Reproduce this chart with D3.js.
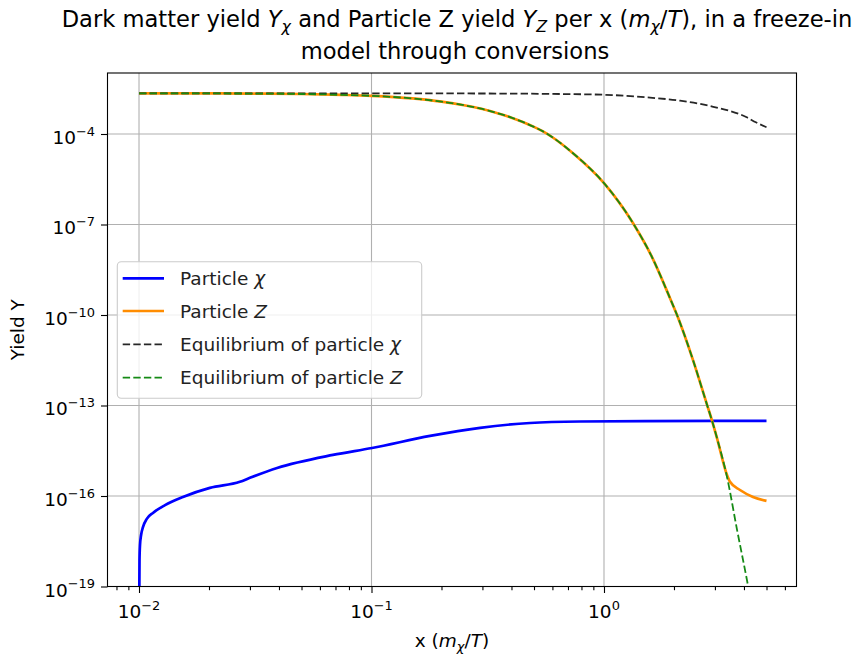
<!DOCTYPE html>
<html>
<head>
<meta charset="utf-8">
<script src="https://cdn.jsdelivr.net/npm/d3@7"></script>
<style>
  html, body { margin: 0; padding: 0; background: #fff; }
  svg { display: block; font-family: "DejaVu Sans", sans-serif; }
</style>
</head>
<body>
<svg id="chart" width="859" height="657"></svg>
<script>
// ---- data: x = m_chi / T, yields Y ----
const xChi  = [0.01, 0.01005, 0.0101, 0.01021, 0.0104, 0.0108, 0.01148, 0.01294, 0.01545, 0.02018, 0.02716, 0.03, 0.03926, 0.06823, 0.1005, 0.1786, 0.2931, 0.4808, 0.7889, 1.5, 3.0, 5.0];
const yChi  = [1e-21, 7.6e-19, 2.4e-18, 5.1e-18, 9.3e-18, 1.74e-17, 2.75e-17, 5.0e-17, 9.3e-17, 1.86e-16, 2.95e-16, 4.0e-16, 8.5e-16, 2.3e-15, 3.9e-15, 9.8e-15, 1.82e-14, 2.63e-14, 2.95e-14, 3.05e-14, 3.1e-14, 3.1e-14];

const xZ    = [0.01, 0.02, 0.03, 0.05, 0.075, 0.1, 0.15, 0.2, 0.25, 0.3, 0.3573, 0.4, 0.45, 0.5, 0.5466, 0.6, 0.7357, 1.0, 1.332, 1.609, 1.923, 2.061, 2.415, 2.775, 2.917, 3.062, 3.381, 3.483, 3.846, 4.374, 5.0];
const yZ    = [2.23e-3, 2.21e-3, 2.19e-3, 2.12e-3, 1.98e-3, 1.84e-3, 1.51e-3, 1.18e-3, 8.98e-4, 6.74e-4, 4.62e-4, 3.48e-4, 2.46e-4, 1.72e-4, 1.22e-4, 7.8e-5, 2.3e-5, 2.35e-6, 1.12e-7, 8.3e-9, 3.6e-10, 1.0e-10, 3.2e-12, 1.05e-13, 3.1e-14, 8.3e-15, 5.0e-16, 2.95e-16, 1.58e-16, 9.3e-17, 6.9e-17];

const xEqChi = [0.01, 0.1, 0.3, 0.6, 1.0, 1.526, 2.123, 2.951, 4.11, 4.5, 5.0];
const yEqChi = [2.23e-3, 2.23e-3, 2.2e-3, 2.13e-3, 2.0e-3, 1.64e-3, 1.27e-3, 8.0e-4, 3.58e-4, 2.44e-4, 1.67e-4];

const xEqZ  = [0.01, 0.02, 0.03, 0.05, 0.075, 0.1, 0.15, 0.2, 0.25, 0.3, 0.3573, 0.4, 0.45, 0.5, 0.5466, 0.6, 0.7357, 1.0, 1.332, 1.609, 1.923, 2.061, 2.415, 2.775, 2.917, 3.062, 3.381, 3.73, 4.16, 4.4];
const yEqZ  = [2.23e-3, 2.21e-3, 2.19e-3, 2.12e-3, 1.98e-3, 1.84e-3, 1.51e-3, 1.18e-3, 8.98e-4, 6.74e-4, 4.62e-4, 3.48e-4, 2.46e-4, 1.72e-4, 1.22e-4, 7.8e-5, 2.3e-5, 2.35e-6, 1.12e-7, 8.3e-9, 3.6e-10, 1.0e-10, 3.2e-12, 1.05e-13, 3.1e-14, 8.3e-15, 4.3e-16, 8.0e-18, 1.1e-19, 1.0e-20];

const xTicks = [0.01, 0.1, 1];
const xTickExp = ["−2", "−1", "0"];
const xMinor = [0.008, 0.009, 0.02, 0.03, 0.04, 0.05, 0.06, 0.07, 0.08, 0.09, 0.2, 0.3, 0.4, 0.5, 0.6, 0.7, 0.8, 0.9, 2, 3, 4, 5, 6];
const yTicks = [1e-19, 1e-16, 1e-13, 1e-10, 1e-7, 1e-4];
const yTickExp = ["−19", "−16", "−13", "−10", "−7", "−4"];

const legendLabels = [
  [{t: "Particle "}, {t: "χ", i: true}],
  [{t: "Particle "}, {t: "Z", i: true}],
  [{t: "Equilibrium of particle "}, {t: "χ", i: true}],
  [{t: "Equilibrium of particle "}, {t: "Z", i: true}]
];

// ---- layout ----
const svg = d3.select("#chart");
const pLeft = 107.5, pRight = 796.5, pTop = 73, pBottom = 586.5;
const FS = 18.5;

const x = d3.scaleLog().domain([Math.pow(10, -2.1355), Math.pow(10, 0.828)]).range([pLeft, pRight]);
const y = d3.scaleLog().domain([1e-19, Math.pow(10, -1.978)]).range([pBottom, pTop]);

// rich text helper: segments with italic / sub / sup
function rich(sel, segs, fs) {
  let shift = 0;
  segs.forEach(s => {
    const ts = sel.append("tspan").text(s.t);
    let target = 0, size = fs;
    if (s.sub) { target = 0.22 * fs; size = 0.7 * fs; }
    if (s.sup) { target = -0.45 * fs; size = 0.7 * fs; }
    ts.attr("font-size", size).attr("dy", target - shift);
    if (s.i) ts.attr("font-style", "italic");
    shift = target;
  });
}

// grid
const grid = svg.append("g").attr("stroke", "#b0b0b0").attr("stroke-width", 1.1);
xTicks.forEach(v => grid.append("line").attr("x1", x(v)).attr("x2", x(v)).attr("y1", pTop).attr("y2", pBottom));
yTicks.forEach(v => grid.append("line").attr("y1", y(v)).attr("y2", y(v)).attr("x1", pLeft).attr("x2", pRight));

// clipped series
svg.append("clipPath").attr("id", "plot").append("rect")
  .attr("x", pLeft).attr("y", pTop).attr("width", pRight - pLeft).attr("height", pBottom - pTop);
const plot = svg.append("g").attr("clip-path", "url(#plot)");
const line = d3.line().x(d => x(d[0])).y(d => y(d[1])).curve(d3.curveMonotoneX);

const series = [
  {xs: xChi, ys: yChi, color: "#0000ff", w: 2.7, dash: null},
  {xs: xZ, ys: yZ, color: "#ff8c00", w: 2.7, dash: null},
  {xs: xEqChi, ys: yEqChi, color: "#262626", w: 1.8, dash: "7.4,3.2"},
  {xs: xEqZ, ys: yEqZ, color: "#158a15", w: 1.8, dash: "7.4,3.2"}
];
series.forEach(s => {
  plot.append("path")
    .datum(s.xs.map((v, k) => [v, s.ys[k]]))
    .attr("fill", "none").attr("stroke", s.color).attr("stroke-width", s.w)
    .attr("stroke-dasharray", s.dash).attr("stroke-linejoin", "round")
    .attr("d", line);
});

// axes
svg.append("g").attr("transform", `translate(0,${pBottom})`)
  .call(d3.axisBottom(x).tickValues(xTicks).tickSize(6.5).tickFormat(() => ""));
svg.append("g").attr("transform", `translate(0,${pBottom})`)
  .call(d3.axisBottom(x).tickValues(xMinor).tickSize(3.7).tickFormat(() => ""));
svg.append("g").attr("transform", `translate(${pLeft},0)`)
  .call(d3.axisLeft(y).tickValues(yTicks).tickSize(6.5).tickFormat(() => ""));
svg.selectAll(".tick line").attr("stroke", "#000").attr("stroke-width", 1.1);
svg.selectAll(".domain").remove();

// frame
svg.append("rect").attr("x", pLeft).attr("y", pTop).attr("width", pRight - pLeft).attr("height", pBottom - pTop)
  .attr("fill", "none").attr("stroke", "#000").attr("stroke-width", 1.1);

// tick labels
xTicks.forEach((v, k) => {
  const t = svg.append("text").attr("x", x(v)).attr("y", 618).attr("text-anchor", "middle").attr("font-size", FS);
  rich(t, [{t: "10"}, {t: xTickExp[k], sup: true}], FS);
});
yTicks.forEach((v, k) => {
  const t = svg.append("text").attr("x", 95).attr("y", y(v) + 10).attr("text-anchor", "end").attr("font-size", FS);
  rich(t, [{t: "10"}, {t: yTickExp[k], sup: true}], FS);
});

// axis labels
const xl = svg.append("text").attr("x", (pLeft + pRight) / 2).attr("y", 647).attr("text-anchor", "middle").attr("font-size", FS);
rich(xl, [{t: "x ("}, {t: "m", i: true}, {t: "χ", i: true, sub: true}, {t: "/"}, {t: "T", i: true}, {t: ")"}], FS);
svg.append("text").attr("transform", `translate(24,${(pTop + pBottom) / 2}) rotate(-90)`)
  .attr("text-anchor", "middle").attr("font-size", FS).text("Yield Y");

// title
const TFS = 22.6;
const t1 = svg.append("text").attr("x", 457).attr("y", 27).attr("text-anchor", "middle").attr("font-size", TFS);
rich(t1, [{t: "Dark matter yield "}, {t: "Y", i: true}, {t: "χ", i: true, sub: true},
          {t: " and Particle Z yield "}, {t: "Y", i: true}, {t: "Z", i: true, sub: true},
          {t: " per x ("}, {t: "m", i: true}, {t: "χ", i: true, sub: true}, {t: "/"}, {t: "T", i: true},
          {t: "), in a freeze-in"}], TFS);
svg.append("text").attr("x", 455).attr("y", 59).attr("text-anchor", "middle")
  .attr("font-size", TFS).text("model through conversions");

// legend
const lg = svg.append("g");
lg.append("rect").attr("x", 117.3).attr("y", 261.7).attr("width", 304.4).attr("height", 136.6).attr("rx", 4)
  .attr("fill", "#fff").attr("fill-opacity", 0.8).attr("stroke", "#cccccc").attr("stroke-width", 1.1);
const rows = [278.3, 311, 344.3, 377.7];
series.forEach((s, k) => {
  lg.append("line").attr("x1", 122.7).attr("x2", 164).attr("y1", rows[k]).attr("y2", rows[k])
    .attr("stroke", s.color).attr("stroke-width", s.w).attr("stroke-dasharray", s.dash);
  const t = lg.append("text").attr("x", 180).attr("y", rows[k] + 6.5).attr("font-size", FS).attr("fill", "#222");
  rich(t, legendLabels[k], FS);
});
</script>
</body>
</html>
